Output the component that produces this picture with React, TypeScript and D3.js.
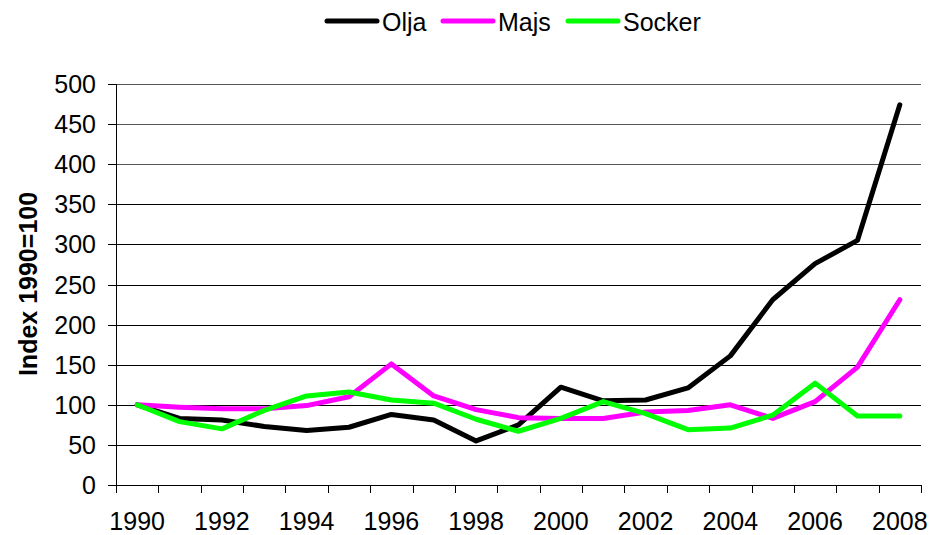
import React, { useEffect, useRef } from 'react';
import * as d3 from 'd3';

const years = [1990, 1991, 1992, 1993, 1994, 1995, 1996, 1997, 1998, 1999, 2000, 2001, 2002, 2003, 2004, 2005, 2006, 2007, 2008];
const olja = [100, 83, 81, 73, 68, 72, 88, 81, 55, 75, 122, 105, 106, 121, 161, 231, 276, 305, 474];
const majs = [100, 97, 95, 95, 99, 110, 151, 111, 94, 84, 83, 83, 91, 93, 100, 83, 104, 147, 231];
const socker = [100, 79, 70, 93, 111, 116, 106, 102, 82, 67, 83, 104, 89, 69, 71, 87, 127, 86, 86];
const yTicks = [0, 50, 100, 150, 200, 250, 300, 350, 400, 450, 500];
const xLabels = [1990, 1992, 1994, 1996, 1998, 2000, 2002, 2004, 2006, 2008];

const series = [
  { name: 'Olja', values: olja, color: '#000000' },
  { name: 'Majs', values: majs, color: '#ff00ff' },
  { name: 'Socker', values: socker, color: '#00ff00' },
];

export default function App() {
  const ref = useRef<SVGSVGElement>(null);

  useEffect(() => {
    const svg = d3.select(ref.current);
    svg.selectAll('*').remove();
    const width = 929;
    const height = 535;
    const left = 116;
    const right = 921;
    const top = 84;
    const bottom = 485;
    const font = '"Liberation Sans", Arial, sans-serif';
    const fs = 25;

    const x = d3.scaleBand<number>().domain(years).range([left, right]).padding(0);
    const cx = (yr: number) => (x(yr) as number) + x.bandwidth() / 2;
    const y = d3.scaleLinear().domain([0, 500]).range([bottom, top]);

    svg.attr('width', width).attr('height', height);

    // gridlines
    svg
      .append('g')
      .selectAll('line')
      .data(yTicks)
      .join('line')
      .attr('x1', left)
      .attr('x2', right)
      .attr('y1', (d) => Math.round(y(d)) + 0.5)
      .attr('y2', (d) => Math.round(y(d)) + 0.5)
      .attr('stroke', (d) => (d >= 400 ? '#555' : '#000'))
      .attr('stroke-width', 1);

    // y ticks + labels
    const yg = svg.append('g');
    yg.selectAll('line')
      .data(yTicks)
      .join('line')
      .attr('x1', left - 8)
      .attr('x2', left)
      .attr('y1', (d) => Math.round(y(d)) + 0.5)
      .attr('y2', (d) => Math.round(y(d)) + 0.5)
      .attr('stroke', '#000');
    yg.selectAll('text')
      .data(yTicks)
      .join('text')
      .attr('x', left - 20)
      .attr('y', (d) => y(d) + 9)
      .attr('text-anchor', 'end')
      .attr('font-family', font)
      .attr('font-size', fs)
      .text((d) => d);

    // y axis line
    svg
      .append('line')
      .attr('x1', left + 0.5)
      .attr('x2', left + 0.5)
      .attr('y1', top)
      .attr('y2', bottom + 8)
      .attr('stroke', '#000');

    // x axis
    svg
      .append('line')
      .attr('x1', left)
      .attr('x2', right)
      .attr('y1', bottom + 0.5)
      .attr('y2', bottom + 0.5)
      .attr('stroke', '#000');
    const bounds = years.map((yr) => x(yr) as number).concat([right]);
    svg
      .append('g')
      .selectAll('line')
      .data(bounds)
      .join('line')
      .attr('x1', (d) => Math.round(d) + 0.5)
      .attr('x2', (d) => Math.round(d) + 0.5)
      .attr('y1', bottom)
      .attr('y2', bottom + 8)
      .attr('stroke', '#000');
    svg
      .append('g')
      .selectAll('text')
      .data(xLabels)
      .join('text')
      .attr('x', (d) => cx(d))
      .attr('y', bottom + 45)
      .attr('text-anchor', 'middle')
      .attr('font-family', font)
      .attr('font-size', fs)
      .text((d) => d);

    // axis title
    svg
      .append('text')
      .attr('transform', `translate(37,284) rotate(-90)`)
      .attr('text-anchor', 'middle')
      .attr('font-family', font)
      .attr('font-size', fs)
      .attr('font-weight', 'bold')
      .text('Index 1990=100');

    // lines
    const line = d3
      .line<number>()
      .x((_, i) => cx(years[i]))
      .y((d) => y(d));
    svg
      .append('g')
      .selectAll('path')
      .data(series)
      .join('path')
      .attr('d', (s) => line(s.values))
      .attr('fill', 'none')
      .attr('stroke', (s) => s.color)
      .attr('stroke-width', 5)
      .attr('stroke-linejoin', 'round')
      .attr('stroke-linecap', 'round');

    // legend
    const legendX = [327, 443, 568];
    const lg = svg
      .append('g')
      .selectAll('g')
      .data(series)
      .join('g')
      .attr('transform', (_, i) => `translate(${legendX[i]},21)`);
    lg.append('line')
      .attr('x1', 0)
      .attr('x2', 50)
      .attr('stroke', (s) => s.color)
      .attr('stroke-width', 5)
      .attr('stroke-linecap', 'round');
    lg.append('text')
      .attr('x', 55)
      .attr('y', 10)
      .attr('font-family', font)
      .attr('font-size', fs)
      .text((s) => s.name);
  }, []);

  return <svg ref={ref} style={{ position: 'absolute', left: 0, top: 0 }}></svg>;
}
